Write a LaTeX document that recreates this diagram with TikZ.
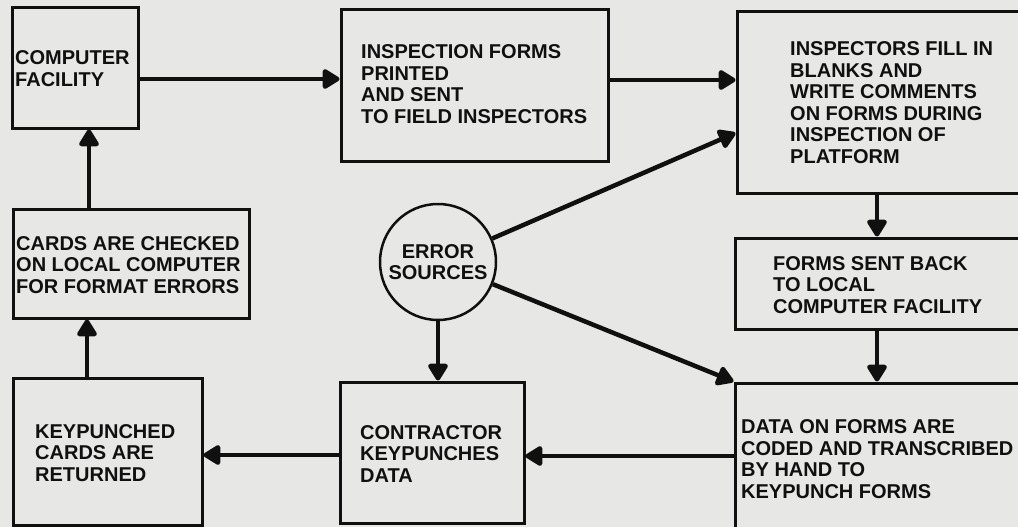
\documentclass[tikz,border=0pt]{standalone}
\usepackage{fontspec}
\setmainfont{Liberation Sans}
\usetikzlibrary{arrows.meta}
\definecolor{paper}{RGB}{231,231,229}
\definecolor{ink}{RGB}{16,16,16}
\begin{document}
\begin{tikzpicture}[x=1pt,y=-1pt,
  stepbox/.style={draw=ink, line width=3pt, rectangle, inner sep=0pt},
  srcbox/.style={draw=ink, line width=2.5pt, circle, inner sep=0pt, minimum size=116pt},
  % multi-line texts: the base anchor sits on the last line
  txt/.style={anchor=base west, inner sep=0pt, align=left, text=ink,
              font=\fontsize{20}{21.5}\selectfont\bfseries},
  link/.style={draw=ink, line width=4.5pt, -{Triangle[length=19pt,width=22pt,round]}}
]
% paper
\path[use as bounding box, fill=paper] (0,0) rectangle (1018,527);

% process boxes
\node[stepbox, minimum width=126pt, minimum height=120pt] (comp) at (75,68) {};
\node[stepbox, minimum width=267pt, minimum height=151pt] (insp) at (474.5,85.5) {};
\node[stepbox, minimum width=293pt, minimum height=181pt] (fill) at (883.5,102.5) {};
\node[stepbox, minimum width=295pt, minimum height=91pt]  (back) at (882.5,283.5) {};
\node[stepbox, minimum width=295pt, minimum height=157pt] (code) at (882.5,461.5) {};
\node[stepbox, minimum width=184pt, minimum height=141pt] (kp)   at (432,452.5) {};
\node[stepbox, minimum width=189pt, minimum height=147pt] (ret)  at (107.5,451.5) {};
\node[stepbox, minimum width=236pt, minimum height=109pt] (chk)  at (131,263.5) {};
\node[srcbox, font=\fontsize{20}{21.5}\selectfont\bfseries, text=ink, align=center] (err) at (438,262) {ERROR\\SOURCES};

% box texts
\node[txt] (compT) at (15,86)   {COMPUTER\\FACILITY};
\node[txt] (inspT) at (361,123) {INSPECTION FORMS\\PRINTED\\AND SENT\\TO FIELD INSPECTORS};
\node[txt] (fillT) at (790,163) {INSPECTORS FILL IN\\BLANKS AND\\WRITE COMMENTS\\ON FORMS DURING\\INSPECTION OF\\PLATFORM};
\node[txt] (backT) at (773,313) {FORMS SENT BACK\\TO LOCAL\\COMPUTER FACILITY};
\node[txt] (codeT) at (741,498) {DATA ON FORMS ARE\\CODED AND TRANSCRIBED\\BY HAND TO\\KEYPUNCH FORMS};
\node[txt] (kpT)   at (360,482) {CONTRACTOR\\KEYPUNCHES\\DATA};
\node[txt] (retT)  at (35,481)  {KEYPUNCHED\\CARDS ARE\\RETURNED};
\node[txt] (chkT)  at (16,293)  {CARDS ARE CHECKED\\ON LOCAL COMPUTER\\FOR FORMAT ERRORS};

% flow
\draw[link] (comp.east |- 0,79) -- (insp.west |- 0,79);
\draw[link] (insp.east |- 0,80) -- (fill.west |- 0,80);
\draw[link] (err) -- (fill.west |- 0,133);
\draw[link] (fill.south -| 877,0) -- (back.north -| 877,0);
\draw[link] (back.south -| 877,0) -- (code.north -| 877,0);
\draw[link] (err) -- (code.north west);
\draw[link] (err.south) -- (err.south |- kp.north);
\draw[link] (code.west |- 0,456) -- (kp.east |- 0,456);
\draw[link] (kp.west |- 0,455) -- (ret.east |- 0,455);
\draw[link] (ret.north -| 87,0) -- (chk.south -| 87,0);
\draw[link] (chk.north -| 89,0) -- (comp.south -| 89,0);
\end{tikzpicture}
\end{document}
